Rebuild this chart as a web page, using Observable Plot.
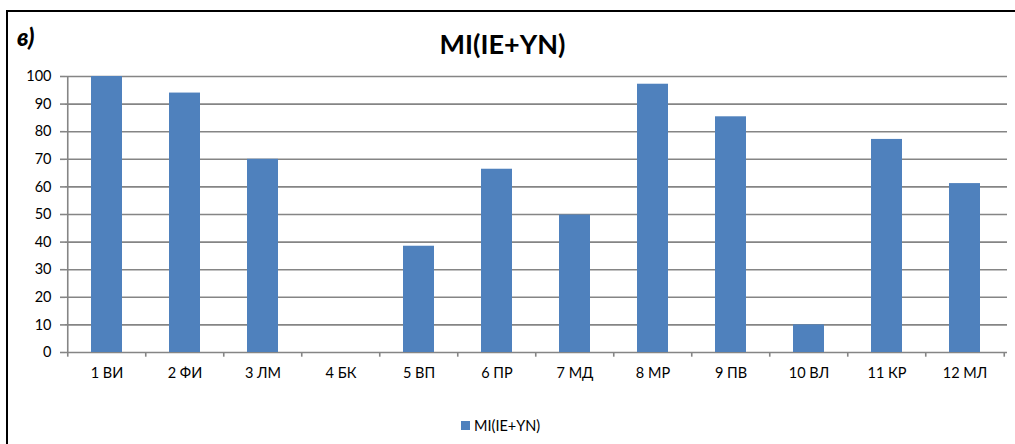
<!DOCTYPE html>
<html>
<head>
<meta charset="utf-8">
<script src="https://cdn.jsdelivr.net/npm/d3@7"></script>
<script src="https://cdn.jsdelivr.net/npm/@observablehq/plot@0.6"></script>
<style>
  html, body { margin: 0; padding: 0; background: #fff; }
  #wrap { position: relative; width: 1015px; height: 444px; overflow: hidden; font-family: Lato, "Open Sans", sans-serif; }
  #border { position: absolute; left: 6px; top: 10px; width: 1100px; height: 500px; border-top: 2px solid #000; border-left: 2px solid #000; pointer-events: none; }
  #panel { position: absolute; left: 17px; top: 22px; font-size: 24px; font-weight: 900; font-style: italic; color: #000; }
  #title { position: absolute; left: 0; top: 27px; width: 1005px; text-align: center; font-size: 27px; font-weight: bold; color: #000; }
  #legend { position: absolute; left: 461px; top: 417px; font-size: 14.5px; color: #000; display: flex; align-items: center; }
  #legend .sw { width: 9px; height: 9px; background: #4F81BD; margin-right: 4px; }
  #chart { position: absolute; left: 0; top: 0; }
</style>
</head>
<body>
<div id="wrap">
  <div id="chart"></div>
  <div id="border"></div>
  <div id="panel">в)</div>
  <div id="title">MI(IE+YN)</div>
  <div id="legend"><span class="sw"></span><span>MI(IE+YN)</span></div>
</div>
<script>
const categories = ["1 ВИ", "2 ФИ", "3 ЛМ", "4 БК", "5 ВП", "6 ПР", "7 МД", "8 МР", "9 ПВ", "10 ВЛ", "11 КР", "12 МЛ"];
const values = [100, 94, 70, 0, 38.5, 66.4, 49.8, 97.2, 85.4, 10, 77.2, 61.2];
const yTicks = [0, 10, 20, 30, 40, 50, 60, 70, 80, 90, 100];
const seriesName = "MI(IE+YN)";

const data = categories.map((c, i) => ({cat: c, value: values[i], series: seriesName}));

const W = 1015, H = 444;
const mL = 65, mR = 8, mT = 76, mB = 92;
const step = (W - mL - mR) / categories.length;
const gridColor = "#858585";

const chart = Plot.plot({
  width: W,
  height: H,
  marginLeft: mL,
  marginRight: mR,
  marginTop: mT,
  marginBottom: mB,
  style: {fontFamily: "Lato, 'Open Sans', sans-serif", fontSize: "14.5px", color: "#000", background: "transparent"},
  x: {domain: categories, paddingInner: 0.6, paddingOuter: 0.3, label: null},
  y: {domain: [0, 100], label: null},
  marks: [
    Plot.ruleY(yTicks, {stroke: gridColor, strokeWidth: 1.6}),
    Plot.ruleX([categories[0]], {dx: -step / 2, y1: 0, y2: 100, stroke: gridColor, strokeWidth: 1.6}),
    Plot.ruleX(categories, {dx: -step / 2, y1: 0, y2: -1.7, stroke: gridColor, strokeWidth: 1.6}),
    Plot.ruleX([categories[categories.length - 1]], {dx: step / 2, y1: 0, y2: -1.7, stroke: gridColor, strokeWidth: 1.6}),
    Plot.barY(data, {x: "cat", y: "value", fill: "#4F81BD"}),
    Plot.axisY({ticks: yTicks, tickSize: 5, tickPadding: 9, stroke: gridColor, strokeWidth: 1.6, label: null, fill: "#000"}),
    Plot.axisX({tickSize: 0, tickPadding: 15, label: null, fill: "#000"})
  ]
});
document.getElementById("chart").appendChild(chart);
</script>
</body>
</html>
